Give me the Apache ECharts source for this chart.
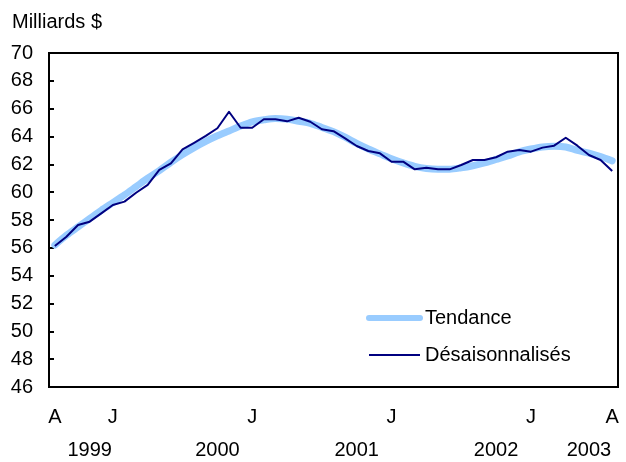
<!DOCTYPE html>
<html><head><meta charset="utf-8">
<script src="https://cdn.jsdelivr.net/npm/echarts@6/dist/echarts.min.js"></script>
<style>html,body{margin:0;padding:0;background:#fff}#c{width:626px;height:462px}</style>
</head><body><div id="c"></div>
<script>
// Monthly categories (French month initials), Aug 1998 .. Aug 2002 layout as drawn
const categories = ['A','S','O','N','D',
  'J','F','M','A','M','J','J','A','S','O','N','D',
  'J','F','M','A','M','J','J','A','S','O','N','D',
  'J','F','M','A','M','J','J','A','S','O','N','D',
  'J','F','M','A','M','J','J','A'];
const monthLabelIdx = [0, 5, 17, 29, 41, 48];
const yearLabels = ['1999', '2000', '2001', '2002', '2003'];
const yearLabelIdx = [3, 14, 26, 38, 46];
const yTicks = {min: 46, max: 70, step: 2};

const tendance = [56.2, 56.9, 57.5, 58.1, 58.7, 59.25, 59.8, 60.4, 61.0, 61.55,
  62.15, 62.7, 63.2, 63.65, 64.05, 64.4, 64.75, 65.05, 65.2, 65.3,
  65.25, 65.1, 64.95, 64.65, 64.35, 63.95, 63.5, 63.1, 62.75, 62.4,
  62.1, 61.85, 61.7, 61.65, 61.65, 61.75, 61.9, 62.1, 62.35, 62.6,
  62.9, 63.1, 63.25, 63.3, 63.25, 63.0, 62.8, 62.55, 62.25];
const desaisonnalises = [56.13, 56.8, 57.64, 57.88, 58.48, 59.08, 59.32, 59.96, 60.52, 61.6,
  62.07, 63.08, 63.55, 64.04, 64.59, 65.78, 64.63, 64.63, 65.24, 65.24,
  65.09, 65.35, 65.06, 64.52, 64.38, 63.87, 63.32, 62.96, 62.79, 62.19,
  62.19, 61.64, 61.76, 61.64, 61.64, 61.95, 62.31, 62.31, 62.51, 62.91,
  63.03, 62.91, 63.2, 63.34, 63.91, 63.34, 62.67, 62.31, 61.52];

const FONT = '"Liberation Sans", Arial, sans-serif';
const chart = echarts.init(document.getElementById('c'), null, {renderer: 'canvas'});
chart.setOption({
  animation: false,
  backgroundColor: '#ffffff',
  title: {
    text: 'Milliards $', left: 12, top: 12, padding: 0,
    textStyle: {fontFamily: FONT, fontSize: 20, fontWeight: 'normal', color: '#000'}
  },
  grid: {left: 49, right: 8, top: 53, bottom: 75, show: true, borderColor: '#000', borderWidth: 2},
  legend: {
    orient: 'vertical', left: 366, top: 308, padding: 0,
    itemWidth: 51, itemHeight: 20, itemGap: 17,
    itemStyle: {opacity: 0},
    data: [
      {name: 'Tendance', lineStyle: {width: 6}},
      {name: 'Désaisonnalisés', lineStyle: {width: 2}}
    ],
    textStyle: {fontFamily: FONT, fontSize: 20, color: '#000'}
  },
  xAxis: [{
    type: 'category', data: categories, boundaryGap: true,
    axisLine: {lineStyle: {color: '#000', width: 2}},
    axisTick: {inside: true, length: 5, interval: 0, lineStyle: {color: '#000', width: 2}},
    axisLabel: {
      interval: (i) => monthLabelIdx.indexOf(i) >= 0,
      margin: 20, fontFamily: FONT, fontSize: 20, color: '#000'
    },
    splitLine: {show: false}
  }, {
    type: 'category', data: categories, boundaryGap: true, position: 'bottom', gridIndex: 0,
    axisLine: {show: false}, axisTick: {show: false},
    axisLabel: {
      interval: (i) => yearLabelIdx.indexOf(i) >= 0,
      formatter: (v, i) => { const j = yearLabelIdx.indexOf(i); return j >= 0 ? yearLabels[j] : ''; },
      margin: 53, fontFamily: FONT, fontSize: 20, color: '#000'
    },
    splitLine: {show: false}
  }],
  yAxis: {
    type: 'value', min: yTicks.min, max: yTicks.max, interval: yTicks.step,
    axisLine: {show: true, lineStyle: {color: '#000', width: 2}},
    axisTick: {show: true, inside: true, length: 5, lineStyle: {color: '#000', width: 2}},
    axisLabel: {margin: 16, fontFamily: FONT, fontSize: 20, color: '#000'},
    splitLine: {show: false}
  },
  series: [{
    name: 'Tendance', type: 'line', data: tendance, xAxisIndex: 0,
    symbol: 'none', smooth: 0.3,
    lineStyle: {color: '#99CCFF', width: 7, cap: 'round', join: 'round'},
    itemStyle: {color: '#99CCFF'}
  }, {
    name: 'Désaisonnalisés', type: 'line', data: desaisonnalises, xAxisIndex: 0,
    symbol: 'none',
    lineStyle: {color: '#000080', width: 2, join: 'round'},
    itemStyle: {color: '#000080'}
  }]
});
</script></body></html>
